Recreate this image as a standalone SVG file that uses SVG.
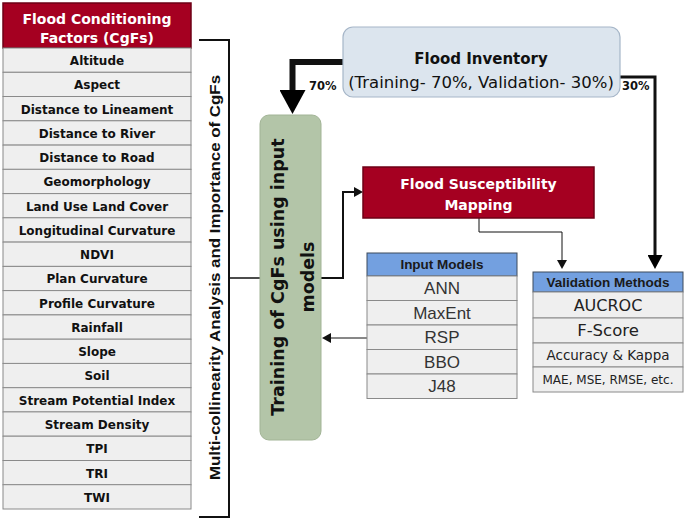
<svg xmlns="http://www.w3.org/2000/svg" width="685" height="520" viewBox="0 0 685 520">
<style>
.comic{font-family:"DejaVu Sans","Liberation Sans",sans-serif;}
.sans{font-family:"Liberation Sans",Arial,sans-serif;}
.row{fill:#efefef;stroke:#8a8a8a;stroke-width:1;}
.red{fill:#a50021;stroke:#6e0016;stroke-width:1.5;}
.hdr{fill:#73a0e0;stroke:#3d4a5c;stroke-width:1;}
.fac{font-size:12px;font-weight:bold;fill:#111;text-anchor:middle;}
.wt{fill:#fff;font-weight:bold;text-anchor:middle;}
.mdl{font-size:17px;fill:#333;text-anchor:middle;}
.ln{fill:none;stroke:#111;}
</style>
<defs>
<marker id="ahBig" markerUnits="userSpaceOnUse" markerWidth="24" markerHeight="26" refX="0" refY="12.5" orient="auto" viewBox="0 0 23 25"><path d="M0,0 L23,12.5 L0,25 z" fill="#000"/></marker>
<marker id="ahMed" markerUnits="userSpaceOnUse" markerWidth="14" markerHeight="15" refX="0" refY="7" orient="auto" viewBox="0 0 13 14"><path d="M0,0 L13,7 L0,14 z" fill="#000"/></marker>
<marker id="ahSm" markerUnits="userSpaceOnUse" markerWidth="10" markerHeight="10" refX="0" refY="5" orient="auto" viewBox="0 0 9 10"><path d="M0,0 L9,5 L0,10 z" fill="#111"/></marker>
</defs>
<rect width="685" height="520" fill="#fff"/>

<g id="connectors">
<path class="ln" d="M199,40 H229 V517 H199" stroke-width="2"/>
<path class="ln" d="M229,278 H260" stroke-width="1.5"/>
<path class="ln" d="M344,62 H292.5 V90" stroke-width="6" marker-end="url(#ahBig)"/>
<path class="ln" d="M620,77 H655 V255" stroke-width="3" marker-end="url(#ahMed)"/>
<path class="ln" d="M321,278 H343 V192 H354" stroke-width="2" marker-end="url(#ahSm)"/>
<path class="ln" d="M479,218 V232 H562 V260" stroke-width="1" marker-end="url(#ahSm)"/>
<path class="ln" d="M367,338 H331" stroke-width="1" marker-end="url(#ahSm)"/>
</g>

<g id="conditioning-factors">
<rect class="red" x="3" y="3" width="188" height="45"/>
<text class="comic wt" font-size="14" x="97" y="24">Flood Conditioning</text>
<text class="comic wt" font-size="14" x="97" y="43">Factors (CgFs)</text>
<g class="rows">
<rect class="row" x="3" y="48" width="188" height="24.3"/>
<rect class="row" x="3" y="72.3" width="188" height="24.3"/>
<rect class="row" x="3" y="96.5" width="188" height="24.3"/>
<rect class="row" x="3" y="120.8" width="188" height="24.3"/>
<rect class="row" x="3" y="145.1" width="188" height="24.3"/>
<rect class="row" x="3" y="169.3" width="188" height="24.3"/>
<rect class="row" x="3" y="193.6" width="188" height="24.3"/>
<rect class="row" x="3" y="217.8" width="188" height="24.3"/>
<rect class="row" x="3" y="242.1" width="188" height="24.3"/>
<rect class="row" x="3" y="266.4" width="188" height="24.3"/>
<rect class="row" x="3" y="290.6" width="188" height="24.3"/>
<rect class="row" x="3" y="314.9" width="188" height="24.3"/>
<rect class="row" x="3" y="339.2" width="188" height="24.3"/>
<rect class="row" x="3" y="363.4" width="188" height="24.3"/>
<rect class="row" x="3" y="387.7" width="188" height="24.3"/>
<rect class="row" x="3" y="411.9" width="188" height="24.3"/>
<rect class="row" x="3" y="436.2" width="188" height="24.3"/>
<rect class="row" x="3" y="460.5" width="188" height="24.3"/>
<rect class="row" x="3" y="484.7" width="188" height="24.3"/>
</g>
<g class="comic fac">
<text x="97" y="65">Altitude</text>
<text x="97" y="89.3">Aspect</text>
<text x="97" y="113.5">Distance to Lineament</text>
<text x="97" y="137.8">Distance to River</text>
<text x="97" y="162.1">Distance to Road</text>
<text x="97" y="186.3">Geomorphology</text>
<text x="97" y="210.6">Land Use Land Cover</text>
<text x="97" y="234.8">Longitudinal Curvature</text>
<text x="97" y="259.1">NDVI</text>
<text x="97" y="283.4">Plan Curvature</text>
<text x="97" y="307.6">Profile Curvature</text>
<text x="97" y="331.9">Rainfall</text>
<text x="97" y="356.2">Slope</text>
<text x="97" y="380.4">Soil</text>
<text x="97" y="404.7">Stream Potential Index</text>
<text x="97" y="428.9">Stream Density</text>
<text x="97" y="453.2">TPI</text>
<text x="97" y="477.5">TRI</text>
<text x="97" y="501.7">TWI</text>
</g>
</g>

<g id="multicollinearity-label">
<text class="sans" font-size="15.5" font-weight="bold" fill="#111" text-anchor="middle" textLength="405" lengthAdjust="spacingAndGlyphs" transform="translate(220,277.5) rotate(-90)">Multi-collinearity Analysis and Importance of CgFs</text>
</g>

<g id="flood-inventory">
<rect x="343" y="27" width="277" height="70" rx="10" fill="#dce5ee" stroke="#a6b6c8" stroke-width="1.2"/>
<text class="comic" font-size="15" font-weight="bold" fill="#111" text-anchor="middle" x="481" y="64">Flood Inventory</text>
<text class="comic" font-size="16.5" fill="#111" text-anchor="middle" x="481" y="88">(Training- 70%, Validation- 30%)</text>
<text class="comic" font-size="11.5" font-weight="bold" fill="#111" x="309" y="90">70%</text>
<text class="comic" font-size="11.5" font-weight="bold" fill="#111" x="622" y="90">30%</text>
</g>

<g id="training">
<rect x="260" y="115" width="61" height="325" rx="9" fill="#b3c5a8" stroke="#a2b496" stroke-width="1"/>
<text class="comic" font-size="17.5" font-weight="bold" fill="#111" text-anchor="middle" transform="translate(284,277) rotate(-90)">Training of CgFs using input</text>
<text class="comic" font-size="17.5" font-weight="bold" fill="#111" text-anchor="middle" transform="translate(314,277) rotate(-90)">models</text>
</g>

<g id="flood-susceptibility-mapping">
<rect class="red" x="363" y="167" width="231" height="51"/>
<text class="comic wt" font-size="14" x="478.5" y="189">Flood Susceptibility</text>
<text class="comic wt" font-size="14" x="478.5" y="210">Mapping</text>
</g>

<g id="input-models">
<rect class="hdr" x="367" y="253" width="150" height="23"/>
<text class="sans" font-size="13.5" font-weight="bold" fill="#1a1a1a" text-anchor="middle" x="442" y="269.3">Input Models</text>
<rect class="row" x="367" y="276" width="150" height="24.5"/>
<rect class="row" x="367" y="300.5" width="150" height="24.5"/>
<rect class="row" x="367" y="325" width="150" height="24.5"/>
<rect class="row" x="367" y="349.5" width="150" height="24.5"/>
<rect class="row" x="367" y="374" width="150" height="24.5"/>
<g class="sans mdl">
<text x="442" y="294.3">ANN</text>
<text x="442" y="318.9">MaxEnt</text>
<text x="442" y="343.4">RSP</text>
<text x="442" y="367.9">BBO</text>
<text x="442" y="392.4">J48</text>
</g>
</g>

<g id="validation-methods">
<rect class="hdr" x="533" y="272" width="150" height="20"/>
<text class="sans" font-size="13.5" font-weight="bold" fill="#1a1a1a" text-anchor="middle" x="608" y="286.8">Validation Methods</text>
<rect class="row" x="533" y="292" width="150" height="26"/>
<rect class="row" x="533" y="318" width="150" height="25"/>
<rect class="row" x="533" y="343" width="150" height="24"/>
<rect class="row" x="533" y="367" width="150" height="25"/>
<g class="comic" fill="#222" text-anchor="middle">
<text x="608" y="310.8" font-size="16">AUCROC</text>
<text x="608" y="336.4" font-size="16.5">F-Score</text>
<text x="608" y="359.9" font-size="13.5">Accuracy &amp; Kappa</text>
<text x="608" y="383.9" font-size="12">MAE, MSE, RMSE, etc.</text>
</g>
</g>
</svg>
